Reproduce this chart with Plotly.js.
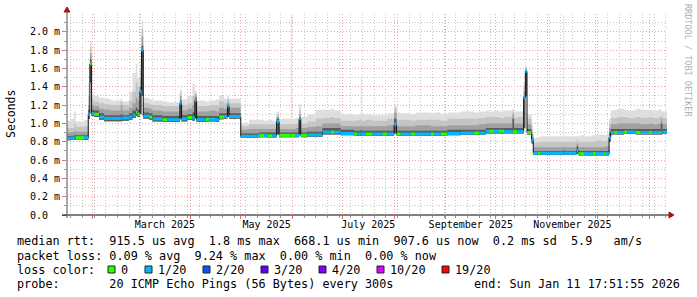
<!DOCTYPE html>
<html><head><meta charset="utf-8">
<script src="https://cdn.plot.ly/plotly-3.0.1.min.js"></script>
<style>html,body{margin:0;padding:0;background:#fff}#chart{width:697px;height:297px}</style>
</head><body><div id="chart"></div>
<script>
// ---- data (median RTT and ping distribution in milliseconds; loss = lost pings out of 20) ----
const times = [
 '2025-01-16 18:00','2025-01-19','2025-01-21','2025-01-22','2025-01-27','2025-01-29 12:00','2025-01-30 12:00','2025-01-31 12:00','2025-02-02','2025-02-05',
 '2025-02-08','2025-02-12','2025-02-18','2025-02-19','2025-02-23','2025-02-25','2025-02-27','2025-02-28','2025-03-01 12:00','2025-03-02 12:00',
 '2025-03-03 12:00','2025-03-07','2025-03-09','2025-03-15','2025-03-18','2025-03-25 12:00','2025-03-26 12:00','2025-03-30','2025-04-02','2025-04-03 12:00',
 '2025-04-04 12:00','2025-04-10','2025-04-12','2025-04-16','2025-04-18','2025-04-21','2025-04-23','2025-04-24','2025-05-01','2025-05-06',
 '2025-05-12','2025-05-15','2025-05-17','2025-05-20','2025-05-22 12:00','2025-05-24','2025-05-31','2025-05-31 15:00','2025-06-03','2025-06-05',
 '2025-06-06','2025-06-10','2025-06-15','2025-06-19','2025-06-24','2025-06-26','2025-06-30','2025-07-08','2025-07-10','2025-07-12',
 '2025-07-12 15:00','2025-07-15','2025-07-19','2025-07-25','2025-07-28','2025-08-01','2025-08-02 12:00','2025-08-05','2025-08-11','2025-08-14',
 '2025-08-23','2025-08-25','2025-08-29','2025-09-02','2025-09-10','2025-09-18','2025-09-21','2025-09-25','2025-09-27','2025-09-30',
 '2025-10-03','2025-10-06','2025-10-11','2025-10-12','2025-10-14','2025-10-17 18:00','2025-10-18 18:00','2025-10-19 18:00','2025-10-22 12:00','2025-10-23 12:00',
 '2025-10-26','2025-10-28','2025-11-10 12:00','2025-11-11','2025-11-18 12:00','2025-11-19 12:00','2025-11-21','2025-11-23','2025-11-28','2025-11-30',
 '2025-12-05','2025-12-06','2025-12-08','2025-12-09','2025-12-11','2025-12-13','2025-12-17','2025-12-19','2025-12-24','2025-12-27',
 '2026-01-01','2026-01-03','2026-01-07','2026-01-08','2026-01-09','2026-01-11 17:52'
];
const med = [
 .835,.84,.84,.845,.845,1.1,1.65,1.11,1.1,1.07,
 1.055,1.055,1.055,1.06,1.07,1.09,1.12,1.1,1.35,1.8,
 1.08,1.07,1.05,1.04,1.04,1.22,1.05,1.065,1.06,1.25,
 1.04,1.045,1.045,1.04,1.07,1.075,1.19,1.075,.86,.86,
 .87,.87,.865,.865,1.02,.87,.87,.87,.87,1.05,
 .87,.875,.875,.905,.905,.905,.89,.885,.885,.885,
 .885,.885,.885,.885,.885,.99,.885,.885,.885,.885,
 .885,.885,.885,.89,.895,.895,.895,.915,.915,.915,
 .915,.91,.91,.91,.91,1.28,1.57,.9,.82,.675,
 .675,.675,.675,.675,.7,.67,.67,.67,.67,.67,
 .67,.67,.85,.9,.9,.9,.905,.905,.9,.9,
 .9,.9,.9,.9,.905,.9076
];
const loss = [
 1,1,1,0,1,1,0,1,0,1,
 1,1,1,1,1,1,0,0,1,1,
 1,0,1,0,1,1,1,0,1,1,
 1,0,1,1,0,1,1,1,1,1,
 0,1,0,1,1,0,0,0,1,1,
 0,1,1,1,0,1,1,0,1,1,
 1,0,1,0,1,1,0,1,0,1,
 0,1,0,1,1,0,1,1,0,1,
 0,1,0,0,1,1,1,0,1,1,
 0,1,1,1,1,0,0,1,0,1,
 0,1,1,1,0,1,0,1,0,1,
 0,1,0,1,1,1
];
const lo = [
 .815,.82,.82,.825,.82,1.05,1.45,1.08,1.07,1.04,
 1.025,1.025,1.025,1.03,1.04,1.06,1.08,1.07,1.1,1.3,
 1.05,1.04,1.02,1.015,1.015,1.05,1.02,1.04,1.03,1.05,
 1.015,1.02,1.02,1.015,1.045,1.05,1.07,1.05,.84,.84,
 .85,.85,.845,.845,.88,.85,.85,.85,.85,.89,
 .85,.855,.855,.88,.88,.88,.87,.865,.865,.865,
 .865,.865,.865,.865,.865,.89,.865,.865,.865,.865,
 .865,.865,.865,.87,.875,.875,.875,.89,.89,.89,
 .89,.89,.89,.89,.89,.95,1.3,.88,.78,.655,
 .655,.655,.655,.655,.67,.65,.65,.65,.65,.65,
 .65,.65,.8,.88,.88,.88,.885,.885,.88,.88,
 .88,.88,.88,.88,.885,.885
];
const q60 = [
 .86,.865,.87,.87,.87,1.15,1.7,1.15,1.14,1.11,
 1.09,1.09,1.1,1.09,1.11,1.14,1.17,1.15,1.4,1.85,
 1.12,1.11,1.09,1.08,1.08,1.25,1.09,1.1,1.12,1.28,
 1.08,1.08,1.08,1.08,1.11,1.11,1.21,1.11,.89,.89,
 .9,.9,.9,.9,1.05,.9,.9,.9,.9,1.07,
 .9,.91,.91,.95,.95,.95,.93,.92,.92,.93,
 .92,.92,.92,.92,.92,1.05,.92,.92,.92,.92,
 .92,.92,.92,.93,.93,.93,.93,.95,.95,.95,
 .95,.95,1.05,.95,.95,1.3,1.58,.94,.85,.7,
 .7,.7,.71,.7,.75,.7,.7,.7,.7,.7,
 .7,.7,.9,.94,.94,.94,.94,.94,.94,.94,
 .94,.94,.94,1.0,.94,.94
];
const q75 = [
 .9,.905,.92,.91,.91,1.2,1.76,1.2,1.19,1.16,
 1.15,1.14,1.2,1.14,1.17,1.22,1.28,1.25,1.5,1.95,
 1.17,1.16,1.14,1.13,1.13,1.3,1.14,1.16,1.2,1.31,
 1.13,1.13,1.14,1.13,1.17,1.16,1.24,1.17,.93,.94,
 .94,.94,.94,.94,1.07,.94,.94,.94,.95,1.1,
 .95,.96,.97,1.0,1.0,1.0,.97,.97,.97,.98,
 .97,.97,.97,.97,.98,1.12,.97,.97,.97,.98,
 .97,.97,.97,.98,.98,.98,.99,1.0,1.0,1.0,
 1.0,1.0,1.1,1.0,1.0,1.35,1.6,.99,.88,.74,
 .74,.74,.75,.74,.78,.74,.74,.74,.74,.74,
 .74,.75,.95,.99,.99,1.0,1.0,1.0,1.0,.99,
 1.0,.99,1.0,1.05,.99,.99
];
const q90 = [
 .95,.95,1.0,.96,.97,1.3,1.83,1.26,1.24,1.22,
 1.21,1.2,1.24,1.2,1.25,1.35,1.45,1.4,1.6,2.03,
 1.22,1.21,1.2,1.19,1.19,1.34,1.2,1.22,1.3,1.33,
 1.19,1.19,1.2,1.2,1.24,1.22,1.27,1.22,.97,.99,
 .99,.99,.99,.99,1.1,.99,1.0,.99,1.0,1.15,
 1.0,1.02,1.05,1.06,1.07,1.06,1.03,1.03,1.04,1.05,
 1.03,1.04,1.03,1.03,1.05,1.17,1.04,1.04,1.03,1.04,
 1.04,1.04,1.03,1.05,1.05,1.05,1.06,1.07,1.07,1.07,
 1.06,1.07,1.13,1.06,1.07,1.4,1.61,1.05,.92,.79,
 .79,.8,.8,.8,.82,.8,.8,.8,.8,.81,
 .8,.82,1.0,1.06,1.06,1.07,1.07,1.06,1.07,1.06,
 1.07,1.06,1.07,1.08,1.06,1.06
];
const qmax = [
 1.03,1.05,1.13,1.02,1.04,1.45,1.9,1.32,1.3,1.28,
 1.27,1.25,1.27,1.24,1.35,1.55,1.65,1.5,1.7,2.12,
 1.28,1.26,1.25,1.24,1.23,1.37,1.26,1.3,1.43,1.36,
 1.25,1.24,1.25,1.26,1.3,1.27,1.3,1.27,1.0,1.04,
 1.04,1.03,1.04,1.03,1.13,1.05,2.18,1.05,1.06,1.21,
 1.07,1.1,1.15,1.15,1.16,1.14,1.1,1.09,1.1,1.49,
 1.1,1.1,1.09,1.09,1.11,1.2,1.12,1.11,1.1,1.12,
 1.11,1.12,1.1,1.12,1.13,1.12,1.13,1.14,1.13,1.14,
 1.13,1.14,1.16,1.13,1.13,1.45,1.62,1.1,.98,.84,
 .85,.86,2.18,.86,.86,.86,.87,.86,.87,.88,
 .87,.88,1.05,1.14,1.15,1.16,1.15,1.14,1.16,1.15,
 1.15,1.14,1.16,1.14,1.13,1.13
];
const yTickVals = [0,0.2,0.4,0.6,0.8,1.0,1.2,1.4,1.6,1.8,2.0];
const yTickText = ['0.0\u00a0\u00a0','0.2 m','0.4 m','0.6 m','0.8 m','1.0 m','1.2 m','1.4 m','1.6 m','1.8 m','2.0 m'];
const monthLabelDates = ['2025-03-16 12:00','2025-05-16 12:00','2025-07-16 12:00','2025-09-16','2025-11-16'];
const monthLabels = ['March 2025','May 2025','July 2025','September 2025','November 2025'];
const lossLevels = [0,1,2,3,4,10,19];
const lossLabels = ['0','1/20','2/20','3/20','4/20','10/20','19/20'];
const lossColors = ['#26ff00','#00b8ff','#0059ff','#5e00ff','#7e00ff','#dd00ff','#ff0000'];
const statsRtt = 'median rtt:  915.5 us avg  1.8 ms max  668.1 us min  907.6 us now  0.2 ms sd  5.9   am/s';
const statsLoss = 'packet loss: 0.09 % avg  9.24 % max  0.00 % min  0.00 % now';
const probeText = 'probe:       20 ICMP Echo Pings (56 Bytes) every 300s';
const endText = 'end: Sun Jan 11 17:51:55 2026';

// ---- drawing ----
const L = 67, R = 667, T = 14, B = 215;
const px = x => (x - L) / (R - L);
const py = y => (B - y) / (B - T);
const mono = 'DejaVu Sans Mono, monospace';
const nb = s => s.replace(/ /g, '\u00a0');

const traces = [];
function band(upper, color) {
  traces.push({x: times, y: lo, type: 'scatter', mode: 'lines', line: {width: 0, shape: 'hv'}, hoverinfo: 'skip'});
  traces.push({x: times, y: upper, type: 'scatter', mode: 'lines', line: {width: 0, shape: 'hv'}, fill: 'tonexty', fillcolor: color, hoverinfo: 'skip'});
}
band(qmax, '#dedede');
band(q90, '#c4c4c4');
band(q75, '#a0a0a0');
band(q60, '#5c5c5c');
traces.push({x: times, y: med, type: 'scatter', mode: 'lines', line: {color: '#111', width: 1, shape: 'hv'}, hoverinfo: 'skip'});
lossLevels.forEach((lv, k) => {
  const xs = [], ys = [];
  for (let i = 0; i < times.length - 1; i++) {
    if (loss[i] === lv) { xs.push(times[i], times[i + 1], null); ys.push(med[i], med[i], null); }
  }
  if (xs.length) traces.push({x: xs, y: ys, type: 'scatter', mode: 'lines', line: {color: lossColors[k], width: 3}, connectgaps: false, hoverinfo: 'skip'});
});
traces.push({x: [times[0]], y: [null], xaxis: 'x2', type: 'scatter', mode: 'markers', hoverinfo: 'skip'});

const gridRed = '#f3a3a3';
const gridGrey = '#c4c4c4';
const dash = '1px,2px';
const xr = [times[0], times[times.length - 1]];

const shapes = [
  {type: 'line', xref: 'paper', yref: 'paper', x0: px(62), x1: px(669), y0: 0, y1: 0, line: {color: '#000', width: 1}},
  {type: 'path', xref: 'paper', yref: 'paper', path: `M${px(669)},${py(212)} L${px(674)},${py(215)} L${px(669)},${py(218)} Z`, fillcolor: '#a01818', line: {color: '#a01818', width: 1}},
  {type: 'line', xref: 'paper', yref: 'paper', x0: 0, x1: 0, y0: py(218), y1: py(12), line: {color: '#555', width: 1}},
  {type: 'path', xref: 'paper', yref: 'paper', path: `M${px(64)},${py(12)} L${px(67)},${py(7)} L${px(70)},${py(12)} Z`, fillcolor: '#a01818', line: {color: '#a01818', width: 1}}
];
const annotations = [
  {text: 'Seconds', xref: 'paper', yref: 'paper', x: px(11), y: py(114), textangle: -90, showarrow: false, xanchor: 'center', yanchor: 'middle', font: {family: mono, size: 11.5, color: '#000'}},
  {text: nb('RRDTOOL / TOBI OETIKER'), xref: 'paper', yref: 'paper', x: px(688), y: py(60), textangle: 90, showarrow: false, xanchor: 'center', yanchor: 'middle', font: {family: mono, size: 8.5, color: '#b0b0b0'}}
];
function txt(s, x, y, anchor) {
  annotations.push({text: nb(s), xref: 'paper', yref: 'paper', x: px(x), y: py(y), xanchor: anchor || 'left', yanchor: 'middle', showarrow: false, borderpad: 0, font: {family: mono, size: 11.8, color: '#000'}});
}
txt(statsRtt, 16, 241);
txt(statsLoss, 16, 255.5);
txt('loss color:', 16, 269.5);
txt(probeText, 16, 283.5);
txt(endText, 681, 283.5, 'right');
let cx = 108;
lossLabels.forEach((lab, k) => {
  shapes.push({type: 'rect', xref: 'paper', yref: 'paper', x0: px(cx), x1: px(cx + 7), y0: py(273), y1: py(266), fillcolor: lossColors[k], line: {color: '#222', width: 1}});
  txt(lab, cx + 12, 269.5);
  cx = cx + 12 + lab.length * 7 + 18;
});

const layout = {
  width: 697, height: 297,
  margin: {l: L, r: 697 - R, t: T, b: 297 - B, pad: 0},
  paper_bgcolor: '#fff', plot_bgcolor: '#fff',
  showlegend: false,
  font: {family: mono, size: 10, color: '#000'},
  xaxis: {
    type: 'date', range: xr, showticklabels: false,
    dtick: 'M1', tick0: '2025-01-01', ticks: 'outside', ticklen: 3, tickcolor: '#e07070',
    showgrid: true, gridcolor: gridRed, griddash: dash, gridwidth: 1,
    minor: {dtick: 604800000, tick0: '2025-01-05', showgrid: true, gridcolor: gridGrey, griddash: dash, gridwidth: 1, ticks: 'outside', ticklen: 2, tickcolor: '#999'},
    zeroline: false, showline: false, fixedrange: true
  },
  xaxis2: {
    type: 'date', overlaying: 'x', anchor: 'y', side: 'bottom', range: xr,
    tickmode: 'array', tickvals: monthLabelDates, ticktext: monthLabels, ticks: '',
    ticklabelstandoff: 2,
    showgrid: false, zeroline: false, showline: false,
    tickfont: {family: mono, size: 10, color: '#000'}
  },
  yaxis: {
    range: [0, 2.195], tickmode: 'array', tickvals: yTickVals, ticktext: yTickText,
    ticks: 'outside', ticklen: 4, tickcolor: '#e07070',
    showgrid: true, gridcolor: gridRed, griddash: dash, gridwidth: 1,
    minor: {dtick: 0.1, tick0: 0, showgrid: true, gridcolor: gridGrey, griddash: dash, gridwidth: 1, ticks: 'outside', ticklen: 2, tickcolor: '#999'},
    zeroline: false, showline: false, fixedrange: true,
    tickfont: {family: mono, size: 10, color: '#000'}
  },
  shapes: shapes,
  annotations: annotations
};
Plotly.newPlot('chart', traces, layout, {staticPlot: true, displayModeBar: false});
</script>
</body></html>
